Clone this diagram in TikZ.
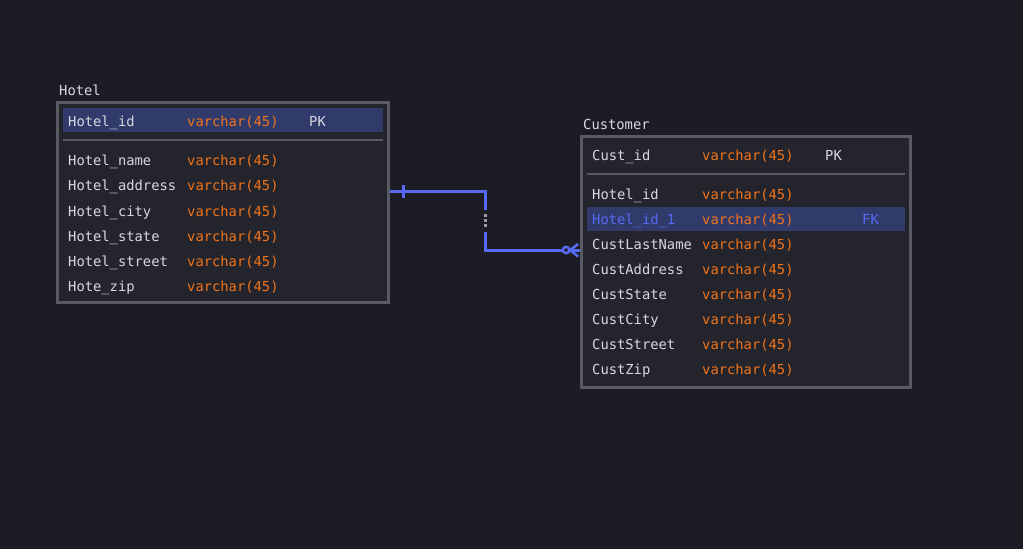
\documentclass[tikz,border=0pt]{standalone}
\usepackage{fontspec}
\setmonofont{DejaVu Sans Mono}
\definecolor{bgcol}{HTML}{1C1D24}
\definecolor{boxcol}{HTML}{23242C}
\definecolor{edgecol}{HTML}{595A64}
\definecolor{rowcol}{HTML}{303A6B}
\definecolor{txtcol}{HTML}{D8D9E0}
\definecolor{typecol}{HTML}{F2741A}
\definecolor{relcol}{HTML}{566AF2}
\begin{document}
\begin{tikzpicture}[x=1pt, y=-1pt,
    tbl/.style={draw=edgecol, fill=boxcol, line width=2.8pt, shape=rectangle, inner sep=0pt},
    col/.style={anchor=west, inner sep=0pt, text height=10pt, text depth=0pt, text=txtcol, font=\ttfamily\fontsize{13.8}{16}\selectfont},
    typ/.style={col, text=typecol},
    rel/.style={draw=relcol, line width=3pt}]
    \fill[bgcol] (0,0) rectangle (1023,549);
    \useasboundingbox (0,0) rectangle (1023,549);
    
    % Hotel
    \node[col] (hoteltitle) at (59,90) {Hotel};
    \node[tbl, minimum width=331pt, minimum height=200pt] (hotel) at (223,202.5) {};
    \fill[rowcol] (63,108) rectangle (383,132);
    \draw[edgecol, line width=2pt] (63,140) -- (383,140);
    
    \node[col] (hid) at (68,121) {Hotel\_id};\node[typ] at (187,121) {varchar(45)};\node[col] at (309,121) {PK};
    \node[col] (hname) at (68,160) {Hotel\_name};\node[typ] at (187,160) {varchar(45)};
    \node[col] (haddr) at (68,185) {Hotel\_address};\node[typ] at (187,185) {varchar(45)};
    \node[col] (hcity) at (68,211) {Hotel\_city};\node[typ] at (187,211) {varchar(45)};
    \node[col] (hstate) at (68,236) {Hotel\_state};\node[typ] at (187,236) {varchar(45)};
    \node[col] (hstreet) at (68,261) {Hotel\_street};\node[typ] at (187,261) {varchar(45)};
    \node[col] (hzip) at (68,286) {Hote\_zip};\node[typ] at (187,286) {varchar(45)};
    
    % Customer
    \node[col] (custtitle) at (583,124) {Customer};
    \node[tbl, minimum width=329pt, minimum height=251pt] (cust) at (746,262) {};
    \fill[rowcol] (587,207) rectangle (905,231);
    \draw[edgecol, line width=2pt] (587,174) -- (905,174);
    
    \node[col] (cid) at (592,155) {Cust\_id};\node[typ] at (702,155) {varchar(45)};\node[col] at (825,155) {PK};
    \node[col] (chid) at (592,194) {Hotel\_id};\node[typ] at (702,194) {varchar(45)};
    \node[col, text=relcol] (chid1) at (592,219) {Hotel\_id\_1};\node[typ] at (702,219) {varchar(45)};\node[col, text=relcol] at (862,219) {FK};
    \node[col] (clast) at (592,244) {CustLastName};\node[typ] at (702,244) {varchar(45)};
    \node[col] (caddr) at (592,269) {CustAddress};\node[typ] at (702,269) {varchar(45)};
    \node[col] (cstate) at (592,294) {CustState};\node[typ] at (702,294) {varchar(45)};
    \node[col] (ccity) at (592,319) {CustCity};\node[typ] at (702,319) {varchar(45)};
    \node[col] (cstreet) at (592,344) {CustStreet};\node[typ] at (702,344) {varchar(45)};
    \node[col] (czip) at (592,369) {CustZip};\node[typ] at (702,369) {varchar(45)};
    
    % relation
    \coordinate (h1) at ([yshift=11.5pt]hotel.east);
    \coordinate (c1) at ([yshift=12pt]cust.west);
    \coordinate (mid) at (485,221);
    \draw[rel] (h1) -| ([yshift=11pt]mid);
    \draw[rel] ([yshift=-11pt]mid) |- (c1);
    \draw[rel] ([xshift=14pt,yshift=6.5pt]h1) -- ([xshift=14pt,yshift=-6.5pt]h1);
    \fill[edgecol!60!white] (483.8,214) rectangle (486.6,216.8);
    \fill[edgecol!60!white] (483.8,219) rectangle (486.6,221.8);
    \fill[edgecol!60!white] (483.8,224) rectangle (486.6,226.8);
    \draw[rel, line width=2.5pt, fill=bgcol] ([xshift=-14pt]c1) circle[radius=3.2pt];
    \draw[rel, line width=2.5pt] ([xshift=-10pt]c1) -- ([xshift=-2pt,yshift=6pt]c1);
    \draw[rel, line width=2.5pt] ([xshift=-10pt]c1) -- ([xshift=-2pt,yshift=-6.5pt]c1);
    
\end{tikzpicture}
\end{document}
